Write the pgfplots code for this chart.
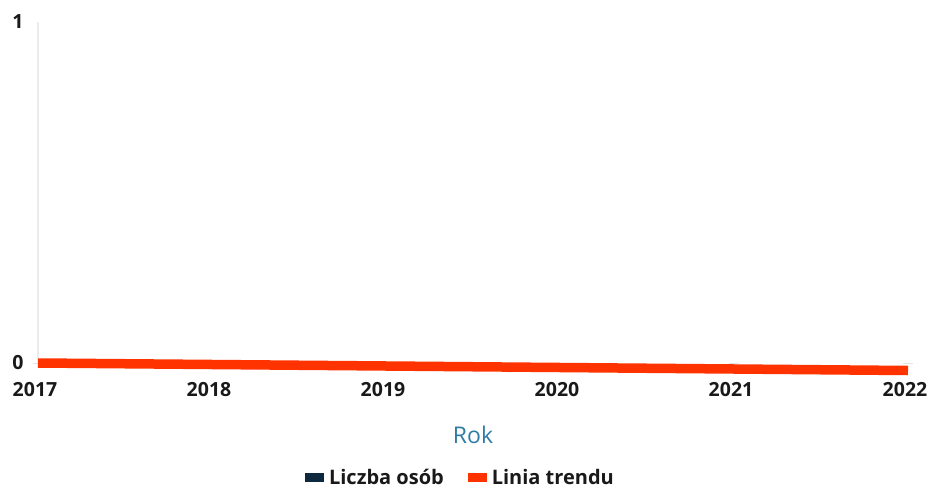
\documentclass[border=0pt]{standalone}
\usepackage{pgfplots}
\pgfplotsset{compat=1.18}
\usepackage{fontspec}
\setmainfont{Open Sans}
\definecolor{trendred}{RGB}{255,51,0}
\definecolor{navy}{RGB}{14,40,62}
\definecolor{rokblue}{RGB}{47,124,163}
\pgfplotsset{sqlegend/.style={legend image code/.code={\fill[#1, draw=none] (0pt,-4.5pt) rectangle (19pt,4.5pt);}}}
\begin{document}
\begin{tikzpicture}
\useasboundingbox (-38pt,-132pt) rectangle (896pt,363pt);
\begin{axis}[
  at={(0pt,0pt)}, anchor=south west,
  scale only axis, width=870pt, height=341pt,
  xmin=2017, xmax=2022, ymin=0, ymax=1,
  xtick={2017,2018,2019,2020,2021,2022},
  xticklabels={2017,2018,2019,2020,2021,2022},
  ytick={0,1},
  major tick length=0pt,
  axis lines=left,
  axis line style={-},
  x axis line style={draw=none},
  y axis line style={draw=black!8, line width=1.5pt},
  clip=false,
  /pgf/number format/assume math mode=true,
  xticklabel style={font=\fontsize{19.5}{22}\selectfont\bfseries, anchor=center, yshift=-27pt, xshift=-3pt, text=black!90},
  yticklabel style={font=\fontsize{19.5}{22}\selectfont\bfseries, anchor=center, xshift=-20pt, text=black!90},
  xlabel={Rok},
  xlabel style={at={(axis description cs:0.5,0)}, anchor=center, yshift=-72pt, font=\fontsize{23}{26}\selectfont, text=rokblue},
  legend columns=2,
  legend style={at={(axis description cs:0.4856,-0.337)}, anchor=center, draw=none, fill=none,
    font=\fontsize{20}{24}\selectfont\bfseries, text=black!90,
    /tikz/every odd column/.append style={column sep=3pt},
    /tikz/every even column/.append style={column sep=22pt}},
]
\addplot[ybar, bar width=10pt, fill=navy, draw=none, sqlegend] coordinates {(2017,0) (2018,0) (2019,0) (2020,0) (2021,0) (2022,0)};
\addlegendentry{Liczba osób}
\addplot[trendred, line width=9.5pt, sqlegend] coordinates {(2017,0) (2022,-0.022)};
\addlegendentry{Linia trendu}
\end{axis}
\end{tikzpicture}
\end{document}
